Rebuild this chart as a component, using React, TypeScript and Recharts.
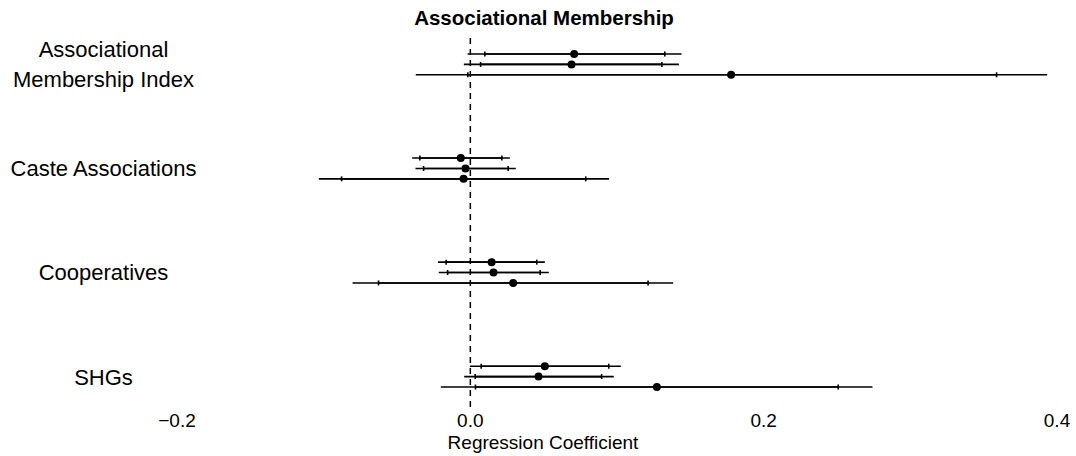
import React from 'react';
import { ScatterChart, Scatter, XAxis, YAxis, ErrorBar, ReferenceLine } from 'recharts';

// Groups, top to bottom; each has three model specifications
const groups = ['Associational\nMembership Index', 'Caste Associations', 'Cooperatives', 'SHGs'];

// Point estimates, three per group
const estimates = [
  0.0708, 0.069, 0.1778,
  -0.0065, -0.0033, -0.0046,
  0.0145, 0.0158, 0.0292,
  0.0508, 0.0465, 0.1272,
];

// 95% interval bounds
const lower95 = [
  -0.0019, -0.0044, -0.0372,
  -0.0397, -0.0374, -0.1033,
  -0.022, -0.0215, -0.0803,
  -0.0003, -0.0042, -0.0201,
];
const upper95 = [
  0.144, 0.1422, 0.3933,
  0.0269, 0.031, 0.0946,
  0.0508, 0.0535, 0.1383,
  0.1026, 0.0978, 0.2742,
];

// 90% interval bounds (small ticks)
const lower90 = [
  0.0099, 0.007, -0.0017,
  -0.0344, -0.0319, -0.0878,
  -0.0165, -0.0155, -0.0626,
  0.0074, 0.0033, 0.0035,
];
const upper90 = [
  0.1326, 0.1306, 0.3588,
  0.0215, 0.0258, 0.0787,
  0.0453, 0.0476, 0.1212,
  0.0944, 0.0895, 0.2508,
];

const xTicks = [-0.2, 0, 0.2, 0.4];

const SPECS = 3;
const GROUP_STEP = 10;

const rows = estimates.map((coef, i) => {
  const g = Math.floor(i / SPECS);
  const s = i % SPECS;
  return {
    coef,
    row: g * GROUP_STEP + s,
    err95: [coef - lower95[i], upper95[i] - coef],
    err90: [coef - lower90[i], upper90[i] - coef],
  };
});

const groupTicks = groups.map((_, g) => g * GROUP_STEP + 1);

const FONT = '"Liberation Sans", Arial, Helvetica, sans-serif';

const fmt = (v: number) => (v < 0 ? '\u2212' : '') + Math.abs(v).toFixed(1);

const XTick = (props: any) => {
  const { x, y, payload } = props;
  return (
    <text x={x} y={y} dy={12} textAnchor="middle" fontSize={19} fontFamily={FONT} fill="#000">
      {fmt(payload.value)}
    </text>
  );
};

const GroupTick = (props: any) => {
  const { y, payload } = props;
  const idx = groupTicks.indexOf(payload.value);
  const lines = (groups[idx] || '').split('\n');
  const lineH = 30;
  const first = y - ((lines.length - 1) * lineH) / 2;
  return (
    <text x={103.5} y={first} textAnchor="middle" fontSize={22} fontFamily={FONT} fill="#000">
      {lines.map((l, i) => (
        <tspan key={i} x={103.5} y={first + i * lineH} dy="0.36em">
          {l}
        </tspan>
      ))}
    </text>
  );
};

const Dot = (props: any) => <circle cx={props.cx} cy={props.cy} r={4} fill="#000" />;

export default function App() {
  return (
    <div style={{ position: 'absolute', left: 0, top: 0, width: 1076, height: 456, background: '#fff' }}>
      <ScatterChart width={1076} height={456} margin={{ top: 34, right: 19, bottom: 0, left: 0 }}>
        <XAxis
          type="number"
          dataKey="coef"
          domain={[-0.2, 0.4]}
          ticks={xTicks}
          axisLine={false}
          tickLine={false}
          height={49}
          tick={<XTick />}
          interval={0}
        />
        <YAxis
          type="number"
          dataKey="row"
          domain={[-1.92, 33.92]}
          reversed
          ticks={groupTicks}
          axisLine={false}
          tickLine={false}
          width={177}
          tick={<GroupTick />}
          interval={0}
        />
        <ReferenceLine x={0} stroke="#000" strokeWidth={1.5} strokeDasharray="6 5" />
        <Scatter data={rows} shape={<Dot />} isAnimationActive={false}>
          <ErrorBar dataKey="err95" direction="x" width={0} stroke="#000" strokeWidth={1.6} />
          <ErrorBar dataKey="err90" direction="x" width={2.5} stroke="#000" strokeWidth={1.6} />
        </Scatter>
      </ScatterChart>
      <svg
        width={1076}
        height={456}
        style={{ position: 'absolute', left: 0, top: 0, pointerEvents: 'none' }}
      >
        <text x={544} y={25} textAnchor="middle" fontSize={20.5} fontWeight="bold" fontFamily={FONT} fill="#000">
          Associational Membership
        </text>
        <text x={543} y={449} textAnchor="middle" fontSize={19} fontFamily={FONT} fill="#000">
          Regression Coefficient
        </text>
      </svg>
    </div>
  );
}
